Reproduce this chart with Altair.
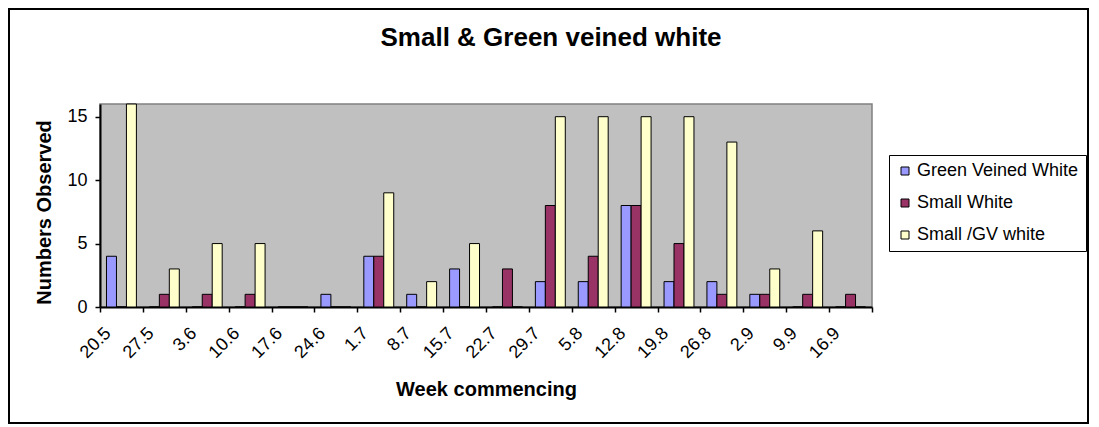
import altair as alt
import pandas as pd

weeks = ["20.5", "27.5", "3.6", "10.6", "17.6", "24.6", "1.7", "8.7", "15.7",
         "22.7", "29.7", "5.8", "12.8", "19.8", "26.8", "2.9", "9.9", "16.9"]
green_veined = [4, 0, 0, 0, 0, 1, 4, 1, 3, 0, 2, 2, 8, 2, 2, 1, 0, 0]
small_white = [0, 1, 1, 1, 0, 0, 4, 0, 0, 3, 8, 4, 8, 5, 1, 1, 1, 1]
small_gv = [16, 3, 5, 5, 0, 0, 9, 2, 5, 0, 15, 15, 15, 15, 13, 3, 6, 0]

series_names = ["Green Veined White", "Small White", "Small /GV white"]
series_colors = ["#9999FF", "#993366", "#FFFFCC"]

rows = []
for name, vals in zip(series_names, [green_veined, small_white, small_gv]):
    for w, v in zip(weeks, vals):
        rows.append({"week": w, "series": name, "value": v})
df = pd.DataFrame(rows)

FONT = "Liberation Sans"

bars = alt.Chart(df).mark_bar(stroke="black", strokeWidth=1).encode(
    x=alt.X("week:N", sort=weeks,
            scale=alt.Scale(paddingInner=0, paddingOuter=0),
            axis=alt.Axis(title="Week commencing", labelAngle=315,
                          labelAlign="right", labelBaseline="top",
                          labelOffset=-20, labelPadding=12,
                          labelFontSize=18, labelFont=FONT, labelColor="black",
                          tickBand="extent", tickSize=5, tickWidth=1.5,
                          tickColor="black", domainColor="black", domainWidth=2,
                          titleFont=FONT, titleFontSize=20, titleFontWeight="bold",
                          titleColor="black", titleX=386, titleY=88,
                          titleAlign="center", titleBaseline="alphabetic")),
    xOffset=alt.XOffset("series:N", sort=series_names,
                        scale=alt.Scale(paddingInner=0, paddingOuter=0.65)),
    y=alt.Y("value:Q", scale=alt.Scale(domain=[0, 16], nice=False),
            axis=alt.Axis(title="Numbers Observed", values=[0, 5, 10, 15],
                          grid=False, labelFontSize=18, labelFont=FONT,
                          labelColor="black", labelPadding=8,
                          tickSize=5, tickWidth=1.5, tickColor="black",
                          domainColor="black", domainWidth=2,
                          titleFont=FONT, titleFontSize=20, titleFontWeight="bold",
                          titleColor="black", titleAngle=270, titleX=-56,
                          titleY=108, titleAlign="center", titleBaseline="middle")),
    color=alt.Color("series:N", sort=series_names,
                    scale=alt.Scale(domain=series_names, range=series_colors),
                    legend=alt.Legend(title=None, orient="none", legendX=789,
                                      legendY=51, strokeColor="black",
                                      fillColor="white", padding=7,
                                      rowPadding=14, symbolType="square",
                                      symbolSize=64, symbolStrokeColor="black",
                                      symbolStrokeWidth=1, labelFont=FONT,
                                      labelFontSize=18, labelColor="black",
                                      labelOffset=3, labelLimit=400)),
)

frame = alt.Chart(alt.Data(values=[{}])).mark_rect(
    fill="transparent", stroke="black", strokeWidth=2
).encode(
    x=alt.value(-91), x2=alt.value(988),
    y=alt.value(-95), y2=alt.value(319),
)

chart = alt.layer(frame, bars).properties(
    width=772, height=203,
    background="white",
    title=alt.TitleParams("Small & Green veined white", anchor="middle",
                          frame="group", dx=65, offset=-64,
                          baseline="alphabetic", font=FONT, fontSize=26,
                          fontWeight="bold", color="black"),
    autosize=alt.AutoSizeParams(type="none"),
    padding={"left": 92, "top": 96, "right": 219, "bottom": 120},
).configure_view(
    fill="#C0C0C0", stroke="#808080", strokeWidth=1.5
)

chart.save("out.html", embed_options={"renderer": "svg", "actions": False})
